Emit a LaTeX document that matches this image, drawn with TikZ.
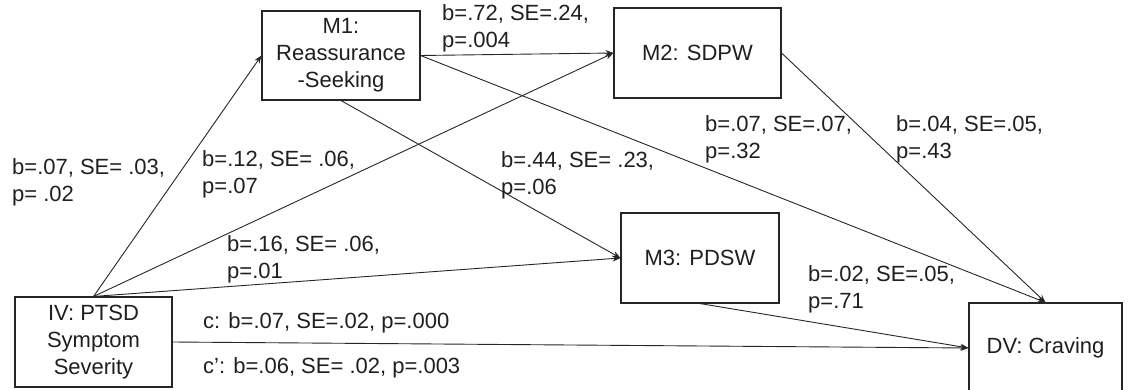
\documentclass[tikz,border=0pt]{standalone}
\usepackage{fontspec}
\setmainfont{Liberation Sans}
\usetikzlibrary{arrows.meta}
\begin{document}
\begin{tikzpicture}[x=1pt,y=-1pt,
  txt/.style={font=\fontsize{22}{27}\selectfont, text=black!88},
  box/.style={txt, draw=black!85, line width=1.1pt, inner sep=0pt, align=center},
  lbl/.style={txt, anchor=base west, inner sep=0pt},
  link/.style={draw=black!85, line width=0.9pt, -{Stealth[length=8pt,width=6pt]}}]
\useasboundingbox (0,0) rectangle (1128,390);
\clip (0,0) rectangle (1128,390);
% boxes
\node[box, minimum width=158pt, minimum height=89pt] (m1) at (341,55.5) {M1:\\Reassurance\\-Seeking};
\node[box, minimum width=167pt, minimum height=90pt] (m2) at (697.5,53) {M2: SDPW};
\node[box, minimum width=158pt, minimum height=90pt] (m3) at (700,258) {M3: PDSW};
\node[box, minimum width=157pt, minimum height=90pt] (iv) at (93.5,342) {IV: PTSD\\Symptom\\Severity};
\node[box, minimum width=153pt, minimum height=90pt] (dv) at (1045.5,348) {DV: Craving};
% connectors
\draw[link] (iv.north) -- (m1.west);
\draw[link] (iv.north) -- (m2.west);
\draw[link] (iv.north) -- (m3.west);
\draw[link] (iv.east) -- (dv.west);
\draw[link] (m1.east) -- (m2.west);
\draw[link] (m1.east) -- (dv.north);
\draw[link] (m1.south) -- (m3.west);
\draw[link] (m2.east) -- (dv.north);
\draw[link] (m3.south) -- (dv.west);
% labels
\node[lbl] (l1) at (12,175) {\begin{tabular}[t]{@{}l@{}}b=.07, SE= .03,\\p= .02\end{tabular}};
\node[lbl] (l2) at (202,167) {\begin{tabular}[t]{@{}l@{}}b=.12, SE= .06,\\p=.07\end{tabular}};
\node[lbl] (l3) at (227,252) {\begin{tabular}[t]{@{}l@{}}b=.16, SE= .06,\\p=.01\end{tabular}};
\node[lbl] (l4) at (442,21) {\begin{tabular}[t]{@{}l@{}}b=.72, SE=.24,\\p=.004\end{tabular}};
\node[lbl] (l5) at (501,168) {\begin{tabular}[t]{@{}l@{}}b=.44, SE= .23,\\p=.06\end{tabular}};
\node[lbl] (l6) at (705,132) {\begin{tabular}[t]{@{}l@{}}b=.07, SE=.07,\\p=.32\end{tabular}};
\node[lbl] (l7) at (896,132) {\begin{tabular}[t]{@{}l@{}}b=.04, SE=.05,\\p=.43\end{tabular}};
\node[lbl] (l8) at (808,282) {\begin{tabular}[t]{@{}l@{}}b=.02, SE=.05,\\p=.71\end{tabular}};
\node[lbl] (lc) at (203,328) {c: b=.07, SE=.02, p=.000};
\node[lbl] (lcp) at (203,373) {c’: b=.06, SE= .02, p=.003};
\end{tikzpicture}
\end{document}
